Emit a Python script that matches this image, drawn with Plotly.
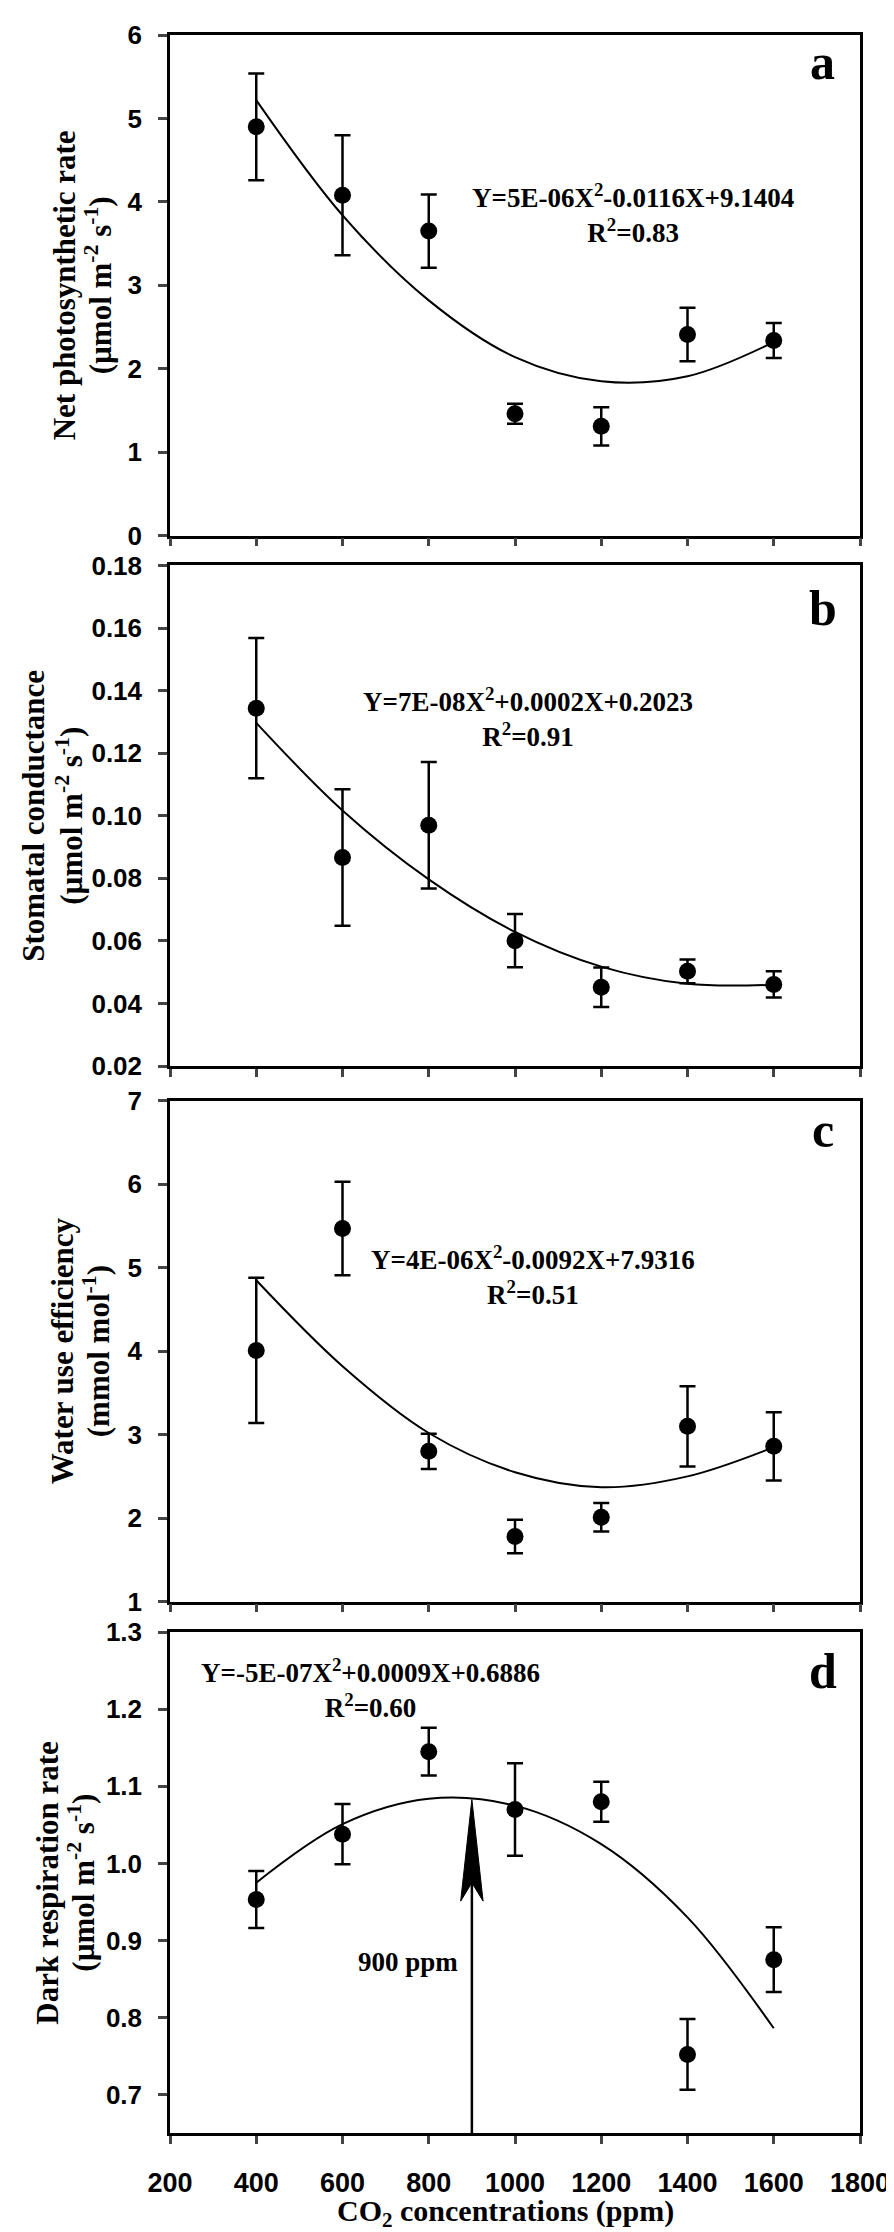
import numpy as np
import plotly.graph_objects as go
from plotly.subplots import make_subplots

# CO2 treatments (ppm)
co2 = [400, 600, 800, 1000, 1200, 1400, 1600]
x_ticks = [200, 400, 600, 800, 1000, 1200, 1400, 1600, 1800]

# a - net photosynthetic rate
pn_mean = [4.90, 4.08, 3.65, 1.46, 1.31, 2.41, 2.34]
pn_err = [0.64, 0.72, 0.44, 0.12, 0.23, 0.32, 0.21]
pn_fit = [5.22, 3.84, 2.82, 2.14, 1.85, 1.91, 2.32]
pn_ticks = [0, 1, 2, 3, 4, 5, 6]

# b - stomatal conductance
gs_mean = [0.1344, 0.0867, 0.0970, 0.0601, 0.0452, 0.0503, 0.0461]
gs_err = [0.0224, 0.0218, 0.0202, 0.0085, 0.0063, 0.0038, 0.0042]
gs_fit = [0.1297, 0.1017, 0.0797, 0.0629, 0.0518, 0.0463, 0.0460]
gs_ticks = [0.02, 0.04, 0.06, 0.08, 0.10, 0.12, 0.14, 0.16, 0.18]

# c - water use efficiency
wue_mean = [4.01, 5.47, 2.80, 1.78, 2.01, 3.10, 2.86]
wue_err = [0.87, 0.56, 0.21, 0.20, 0.17, 0.48, 0.41]
wue_fit = [4.85, 3.82, 3.02, 2.55, 2.37, 2.50, 2.85]
wue_ticks = [1, 2, 3, 4, 5, 6, 7]

# d - dark respiration rate
rd_mean = [0.953, 1.038, 1.145, 1.070, 1.080, 0.752, 0.875]
rd_err = [0.037, 0.039, 0.031, 0.060, 0.026, 0.046, 0.042]
rd_fit = [0.975, 1.051, 1.084, 1.075, 1.025, 0.930, 0.786]
rd_ticks = [0.7, 0.8, 0.9, 1.0, 1.1, 1.2, 1.3]

serif = 'Liberation Serif, Times New Roman, serif'
sans = 'Liberation Sans, Arial, sans-serif'
units = '(µmol m<sup>-2</sup> s<sup>-1</sup>)'

panels = [
    dict(mean=pn_mean, err=pn_err, fit=pn_fit, ticks=pn_ticks, rng=[0, 6], fmt='d',
         title=['Net photosynthetic rate', units], tx=[56, 90], letter='a', lb=45,
         eq='Y=5E-06X<sup>2</sup>-0.0116X+9.1404<br>R<sup>2</sup>=0.83', ex=1274, ey=3.86),
    dict(mean=gs_mean, err=gs_err, fit=gs_fit, ticks=gs_ticks, rng=[0.02, 0.18], fmt='.2f',
         title=['Stomatal conductance', units], tx=[26, 62], letter='b', lb=61,
         eq='Y=7E-08X<sup>2</sup>+0.0002X+0.2023<br>R<sup>2</sup>=0.91', ex=1030, ey=0.1314),
    dict(mean=wue_mean, err=wue_err, fit=wue_fit, ticks=wue_ticks, rng=[1, 7], fmt='d',
         title=['Water use efficiency', '(mmol mol<sup>-1</sup>)'], tx=[54, 88], letter='c', lb=47,
         eq='Y=4E-06X<sup>2</sup>-0.0092X+7.9316<br>R<sup>2</sup>=0.51', ex=1041, ey=4.91),
    dict(mean=rd_mean, err=rd_err, fit=rd_fit, ticks=rd_ticks, rng=[0.65, 1.3], fmt='.1f',
         title=['Dark respiration rate', units], tx=[40, 74], letter='d', lb=57,
         eq='Y=-5E-07X<sup>2</sup>+0.0009X+0.6886<br>R<sup>2</sup>=0.60', ex=664, ey=1.2276),
]

domains = [[0.76136, 1.0], [0.50852, 0.74716], [0.25331, 0.49195], [0.0, 0.23864]]

fig = make_subplots(rows=4, cols=1)
left_px = 162
annotations = []

for i, p in enumerate(panels):
    row = i + 1
    sfx = '' if i == 0 else str(row)
    fig.add_trace(go.Scatter(x=co2, y=p['fit'], mode='lines', line=dict(color='black', width=2, shape='spline'),
                             showlegend=False, hoverinfo='skip'), row=row, col=1)
    fig.add_trace(go.Scatter(x=co2, y=p['mean'], mode='markers',
                             marker=dict(color='black', size=17),
                             error_y=dict(type='data', array=p['err'], color='black', thickness=2.5, width=8),
                             showlegend=False), row=row, col=1)

    fig.update_xaxes(range=[200, 1800], tickvals=x_ticks, ticks='outside', ticklen=8, tickwidth=2.5,
                     showline=True, linewidth=2.5, linecolor='black', mirror=True,
                     showgrid=False, zeroline=False, showticklabels=(row == 4),
                     tickfont=dict(family=sans, size=27, color='black', weight='bold'),
                     ticklabelstandoff=16, row=row, col=1)
    fig.update_yaxes(range=p['rng'], tickvals=p['ticks'], tickformat=p['fmt'], ticks='outside',
                     ticklen=9, tickwidth=2.5, showline=True, linewidth=2.5, linecolor='black',
                     mirror=True, showgrid=False, zeroline=False, domain=domains[i],
                     tickfont=dict(family=sans, size=26, color='black', weight='bold'),
                     ticklabelstandoff=11, row=row, col=1)

    # y title, two lines
    for line, cx in zip(p['title'], p['tx']):
        annotations.append(dict(text=line, textangle=-90, xref='paper', x=0, xshift=cx - left_px,
                                xanchor='center', yref=f'y{sfx} domain', y=0.5, yanchor='middle',
                                showarrow=False, font=dict(family=serif, size=31, color='black', weight='bold')))
    # panel letter
    annotations.append(dict(text=p['letter'], xref=f'x{sfx} domain', x=0.946, xanchor='center',
                            yref=f'y{sfx} domain', y=1, yanchor='bottom', yshift=-(p['lb'] + 12),
                            showarrow=False, font=dict(family=serif, size=50, color='black', weight='bold')))
    # equation
    annotations.append(dict(text=p['eq'], xref=f'x{sfx}', yref=f'y{sfx}', x=p['ex'], y=p['ey'],
                            xanchor='center', yanchor='middle', showarrow=False, align='center',
                            font=dict(family=serif, size=27, color='black', weight='bold')))

# optimum arrow in panel d
opt_x = 900
tip_y, notch_y, barb_y, half_w = 1.083, 0.975, 0.951, 26
fig.add_shape(type='line', xref='x4', yref='y4', x0=opt_x, x1=opt_x, y0=0.65, y1=notch_y + 0.01,
              line=dict(color='black', width=2.5))
fig.add_shape(type='path', xref='x4', yref='y4', fillcolor='black', line=dict(color='black', width=1),
              path=f'M {opt_x},{tip_y} L {opt_x + half_w},{barb_y} L {opt_x},{notch_y} '
                   f'L {opt_x - half_w},{barb_y} Z')
annotations.append(dict(text='900 ppm', xref='x4', yref='y4', x=872, y=0.872, xanchor='right',
                        yanchor='middle', showarrow=False,
                        font=dict(family=serif, size=27, color='black', weight='bold')))

# x title
annotations.append(dict(text='CO<sub>2</sub> concentrations (ppm)', xref='paper', x=0.486, xanchor='center',
                        yref='paper', y=0, yshift=-80, yanchor='middle', showarrow=False,
                        font=dict(family=serif, size=30, color='black', weight='bold')))

fig.update_layout(width=894, height=2232, margin=dict(l=162, r=32, t=13, b=107),
                  plot_bgcolor='white', paper_bgcolor='white', annotations=annotations)

fig.write_html("out.html")
